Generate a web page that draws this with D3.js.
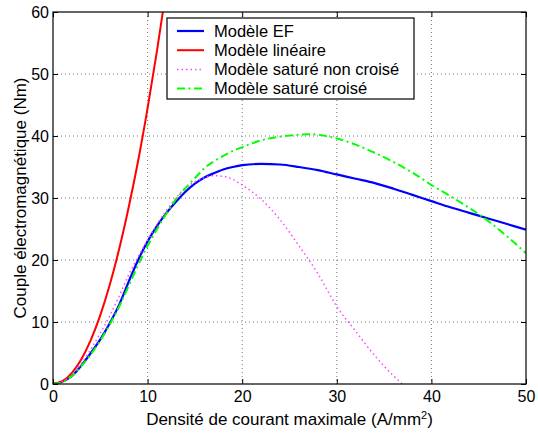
<!DOCTYPE html>
<html>
<head>
<meta charset="utf-8">
<script src="https://cdn.jsdelivr.net/npm/d3@7"></script>
<style>
  body { margin: 0; background: #fff; }
  svg { display: block; font-family: "Liberation Sans", Arial, sans-serif; }
  .grid line { stroke: #777; stroke-dasharray: 1,3; stroke-width: 1; }
</style>
</head>
<body>
<div class="chart"></div>
<script>
// Data
const x_ticks = [0, 10, 20, 30, 40, 50];
const y_ticks = [0, 10, 20, 30, 40, 50, 60];

// Modèle EF
const ef_x = [0, 1, 2, 3, 4, 5, 6, 7, 8, 9, 10, 11, 12, 13, 14, 15, 16, 17, 18, 19, 20, 22, 24, 26, 28, 30, 32, 34, 36, 38, 40, 42, 44, 46, 48, 50];
const ef_y = [0, 0.4, 1.3, 3.0, 5.0, 7.2, 9.8, 12.8, 16.5, 20, 23, 25.5, 27.6, 29.4, 31, 32.3, 33.3, 34, 34.6, 35, 35.3, 35.5, 35.4, 35, 34.5, 33.8, 33.1, 32.4, 31.5, 30.5, 29.5, 28.5, 27.6, 26.7, 25.8, 24.9];

// Modèle linéaire
const lin_x = [0, 1, 2, 3, 4, 5, 6, 7, 8, 9, 10, 11, 12];
const lin_y = [0, 0.45, 1.8, 4, 7.1, 11.1, 16, 21.8, 28.5, 36, 44.5, 53.8, 64];

// Modèle saturé non croisé
const snc_x = [0, 1, 2, 3, 4, 5, 6, 7, 8, 9, 10, 11, 12, 13, 14, 15, 16, 17, 18, 19, 20, 22, 24, 26, 28, 30, 32, 34, 36, 37, 38];
const snc_y = [0, 0.4, 1.5, 3.3, 5.6, 8.2, 11, 14.2, 17.6, 20.5, 23.2, 25.8, 28, 30, 31.6, 32.6, 33.3, 33.6, 33.5, 33, 32.1, 29.8, 26.5, 22.3, 17.8, 12.5, 8.5, 4.6, 1.3, -0.1, -1.5];

// Modèle saturé croisé
const sc_x = [0, 1, 2, 3, 4, 5, 6, 7, 8, 9, 10, 11, 12, 13, 14, 15, 16, 17, 18, 19, 20, 22, 24, 26, 27, 28, 30, 32, 34, 36, 38, 40, 42, 44, 46, 48, 50];
const sc_y = [0, 0.3, 1.3, 2.9, 4.8, 7, 9.6, 12.5, 15.8, 19.2, 22.3, 25, 27.5, 29.8, 31.6, 33.2, 34.8, 35.9, 36.8, 37.6, 38.2, 39.3, 39.9, 40.2, 40.3, 40.2, 39.6, 38.6, 37.3, 35.8, 34.1, 32.1, 30.3, 28.4, 26.3, 23.8, 21.1];

const series = [
  {name: 'Modèle EF', color: '#0000ff', width: 2.2, dash: null, xs: ef_x, ys: ef_y},
  {name: 'Modèle linéaire', color: '#ff0000', width: 2, dash: null, xs: lin_x, ys: lin_y},
  {name: 'Modèle saturé non croisé', color: '#ff44ff', width: 1.5, dash: '1.5,3', xs: snc_x, ys: snc_y},
  {name: 'Modèle saturé croisé', color: '#00ff00', width: 2, dash: '8,3.5,2,3.5', xs: sc_x, ys: sc_y}
];

const svg_width = 538;
const svg_height = 434;
const margin = {top: 12, right: 12, bottom: 50, left: 53};
const chart_width = svg_width - margin.left - margin.right;
const chart_height = svg_height - margin.top - margin.bottom;

const svg = d3.select('.chart').append('svg')
  .attr('width', svg_width)
  .attr('height', svg_height);

const g = svg.append('g').attr('transform', `translate(${margin.left}, ${margin.top})`);

const x_scale = d3.scaleLinear().domain([0, 50]).range([0, chart_width]);
const y_scale = d3.scaleLinear().domain([0, 60]).range([chart_height, 0]);

// grid
const grid = g.append('g').attr('class', 'grid');
grid.selectAll('.gx').data(x_ticks.slice(1, -1)).enter().append('line')
  .attr('x1', d => x_scale(d)).attr('x2', d => x_scale(d))
  .attr('y1', 0).attr('y2', chart_height);
grid.selectAll('.gy').data(y_ticks.slice(1, -1)).enter().append('line')
  .attr('y1', d => y_scale(d)).attr('y2', d => y_scale(d))
  .attr('x1', 0).attr('x2', chart_width);

// clip
g.append('clipPath').attr('id', 'clip')
  .append('rect').attr('width', chart_width).attr('height', chart_height);

const line_generator = d3.line()
  .x(d => x_scale(d[0]))
  .y(d => y_scale(d[1]))
  .curve(d3.curveMonotoneX);

g.append('g').attr('clip-path', 'url(#clip)')
  .selectAll('path')
  .data(series)
  .enter()
  .append('path')
  .attr('d', d => line_generator(d.xs.map((x, i) => [x, d.ys[i]])))
  .style('fill', 'none')
  .style('stroke', d => d.color)
  .style('stroke-width', d => d.width)
  .style('stroke-dasharray', d => d.dash);

// axes (box with inward ticks)
const tick_len = 5;
const style_axis = (sel) => {
  sel.select('.domain').remove();
  sel.selectAll('.tick line').attr('stroke', '#000');
  sel.selectAll('.tick text').style('font-size', '16px').attr('fill', '#000');
};
g.append('g').attr('transform', `translate(0, ${chart_height})`)
  .call(d3.axisBottom(x_scale).tickValues(x_ticks).tickSize(-tick_len).tickPadding(7))
  .call(style_axis);
g.append('g')
  .call(d3.axisTop(x_scale).tickValues(x_ticks).tickSize(-tick_len).tickFormat(''))
  .call(style_axis);
g.append('g')
  .call(d3.axisLeft(y_scale).tickValues(y_ticks).tickSize(-tick_len).tickPadding(4))
  .call(style_axis);
g.append('g').attr('transform', `translate(${chart_width}, 0)`)
  .call(d3.axisRight(y_scale).tickValues(y_ticks).tickSize(-tick_len).tickFormat(''))
  .call(style_axis);

g.append('rect')
  .attr('width', chart_width).attr('height', chart_height)
  .style('fill', 'none').style('stroke', '#000').style('stroke-width', 1.2);

// axis labels
const xlab = svg.append('text')
  .attr('x', margin.left + chart_width / 2)
  .attr('y', 425)
  .attr('text-anchor', 'middle')
  .style('font-size', '17px');
xlab.append('tspan').text('Densité de courant maximale (A/mm');
xlab.append('tspan').text('2').attr('dy', -6).style('font-size', '11px');
xlab.append('tspan').text(')').attr('dy', 6);

svg.append('text')
  .attr('transform', `translate(26, ${margin.top + chart_height / 2}) rotate(-90)`)
  .attr('text-anchor', 'middle')
  .style('font-size', '17px')
  .text('Couple électromagnétique (Nm)');

// legend
const legend = svg.append('g').attr('transform', 'translate(167, 18)');
legend.append('rect')
  .attr('width', 247).attr('height', 81)
  .style('fill', '#fff').style('stroke', '#000').style('stroke-width', 1.2);
const rows = legend.selectAll('.row').data(series).enter().append('g')
  .attr('transform', (d, i) => `translate(0, ${13 + i * 19.2})`);
rows.append('line')
  .attr('x1', 10).attr('x2', 37)
  .style('stroke', d => d.color)
  .style('stroke-width', d => d.width)
  .style('stroke-dasharray', d => d.dash);
rows.append('text')
  .attr('x', 47).attr('y', 5.5)
  .style('font-size', '16.5px')
  .text(d => d.name);
</script>
</body>
</html>
